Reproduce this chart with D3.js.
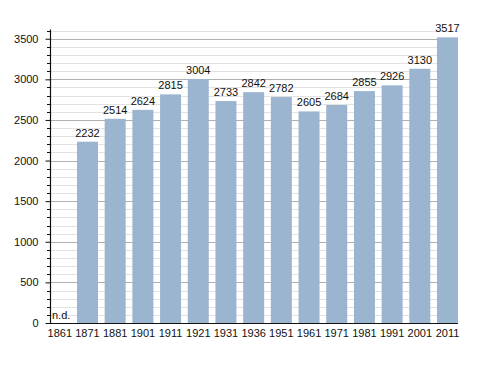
<!DOCTYPE html>
<html><head><meta charset="utf-8">
<script src="https://cdn.jsdelivr.net/npm/d3@7"></script>
<style>body{margin:0;background:#fff}text{font-family:"Liberation Sans",Arial,sans-serif}</style>
</head><body><svg id="c" width="488" height="373"></svg>
<script>
const years = ["1861","1871","1881","1901","1911","1921","1931","1936","1951","1961","1971","1981","1991","2001","2011"];
const population = [null,2232,2514,2624,2815,3004,2733,2842,2782,2605,2684,2855,2926,3130,3517];
const yTicks = [0,500,1000,1500,2000,2500,3000,3500];

const svg = d3.select("#c");
const L = 50, R = 458, T = 30.6, B = 323;
const x = d3.scaleBand().domain(years).range([49.3, 458]).paddingInner(0.242).paddingOuter(0);
const y = d3.scaleLinear().domain([0,3600]).range([B,T]);

// minor grid
const minor = d3.range(100,3601,100).filter(v=>v%500!==0);
svg.append("g").selectAll("line").data(minor).join("line")
  .attr("x1",L).attr("x2",R).attr("y1",d=>Math.round(y(d))+0.5).attr("y2",d=>Math.round(y(d))+0.5)
  .attr("stroke","#e2e2e2").attr("stroke-width",1);
svg.append("g").selectAll("line").data(yTicks.filter(v=>v>0)).join("line")
  .attr("x1",L).attr("x2",R).attr("y1",d=>Math.round(y(d))+0.5).attr("y2",d=>Math.round(y(d))+0.5)
  .attr("stroke","#b0b0b0").attr("stroke-width",1);

// bars
const data = years.map((yr,i)=>({yr,v:population[i]}));
svg.append("g").selectAll("rect").data(data.filter(d=>d.v!=null)).join("rect")
  .attr("x",d=>x(d.yr)).attr("width",x.bandwidth())
  .attr("y",d=>y(d.v)).attr("height",d=>B-y(d.v))
  .attr("fill","#9bb4d0");

// value labels
svg.append("g").selectAll("text").data(data.filter(d=>d.v!=null)).join("text")
  .attr("x",d=>x(d.yr)+x.bandwidth()/2).attr("y",d=>y(d.v)-5)
  .attr("text-anchor","middle").attr("font-size",11).attr("fill","#111")
  .text(d=>d.v);
svg.append("text").attr("x",L+2).attr("y",B-4).attr("font-size",11).attr("fill","#111").text("n.d.");

// y axis
const ya = d3.axisLeft(y).tickValues(yTicks).tickFormat(d3.format("d")).tickSize(5).tickPadding(7);
const gy = svg.append("g").attr("transform",`translate(${L+0.5},0)`).call(ya);
gy.select(".domain").remove();
gy.selectAll("text").attr("font-size",11).attr("fill","#111").style("font-family","Liberation Sans, Arial, sans-serif");
gy.selectAll(".tick line").attr("stroke","#111");
svg.append("g").selectAll("line").data(minor).join("line")
  .attr("x1",L-3).attr("x2",L).attr("y1",d=>Math.round(y(d))+0.5).attr("y2",d=>Math.round(y(d))+0.5)
  .attr("stroke","#111");
svg.append("line").attr("x1",L+0.5).attr("x2",L+0.5).attr("y1",T-1).attr("y2",B+1).attr("stroke","#111").attr("stroke-width",1.2);

// x axis
const xa = d3.axisBottom(x).tickSize(0).tickPadding(6);
const gx = svg.append("g").attr("transform",`translate(0,${B})`).call(xa);
gx.select(".domain").remove();
gx.selectAll("text").attr("font-size",11).attr("fill","#111").style("font-family","Liberation Sans, Arial, sans-serif");
svg.append("line").attr("x1",L).attr("x2",R).attr("y1",B+0.5).attr("y2",B+0.5).attr("stroke","#111").attr("stroke-width",1.2);
</script></body></html>
